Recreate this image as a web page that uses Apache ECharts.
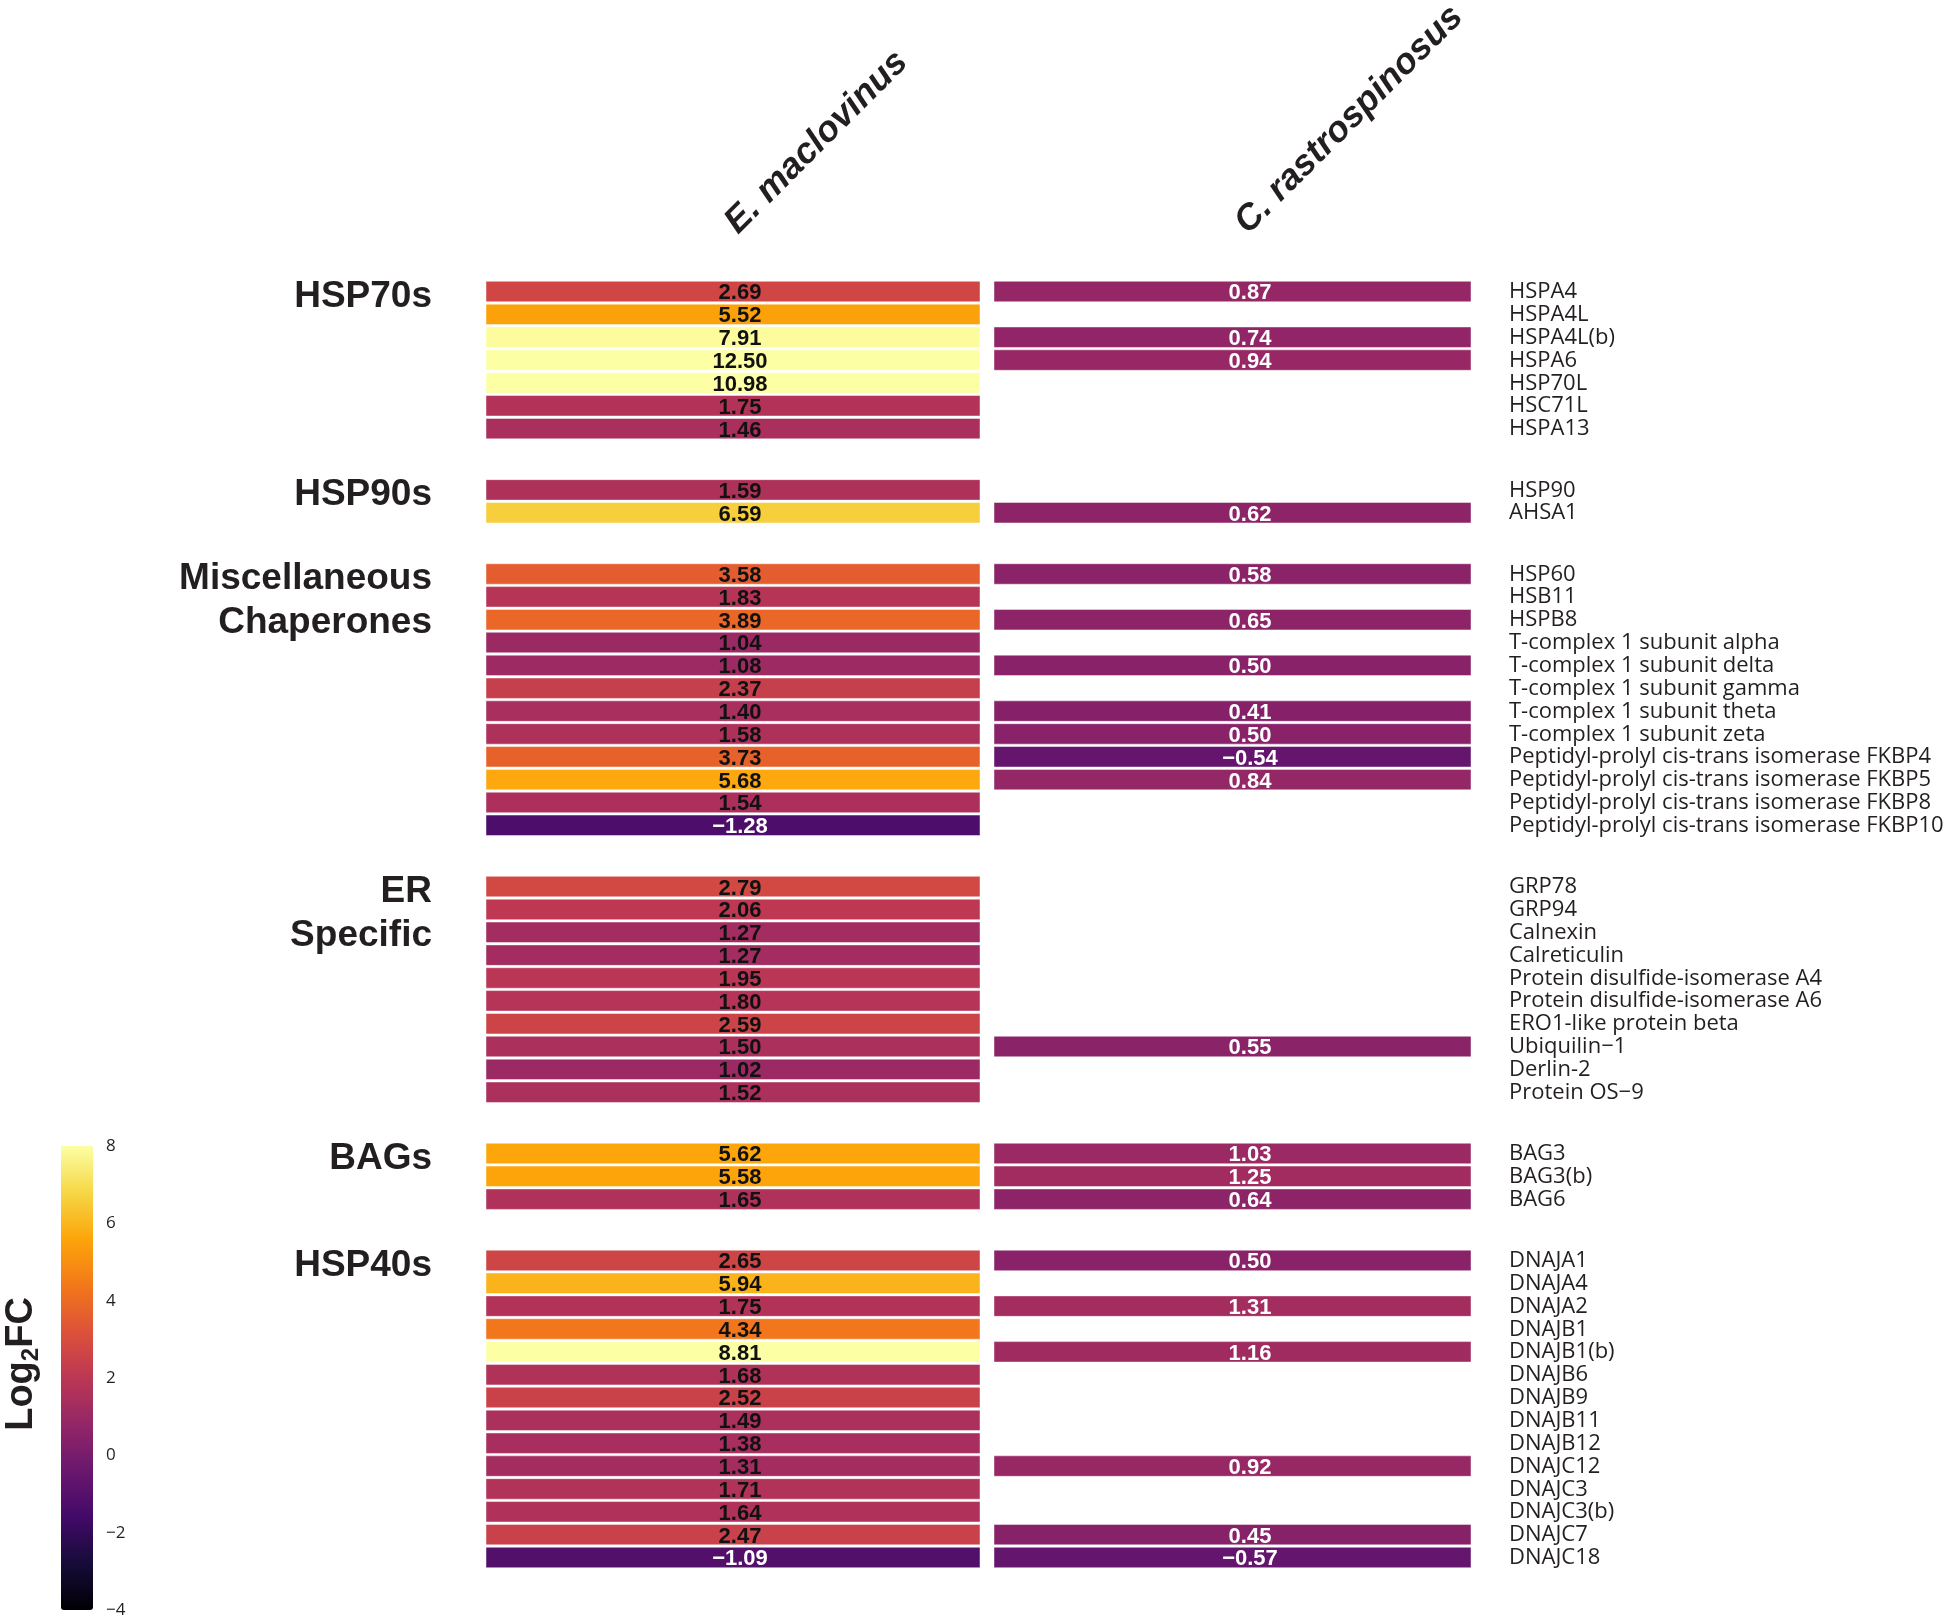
<!DOCTYPE html>
<html><head><meta charset="utf-8">
<script src="https://cdn.jsdelivr.net/npm/echarts@6/dist/echarts.min.js"></script>
<style>html,body{margin:0;padding:0;background:#fff}#chart{width:1946px;height:1620px}</style>
</head><body><div id="chart"></div>
<script>
// ---------- data ----------
const columns = ['E. maclovinus', 'C. rastrospinosus'];
const groupNames = ['HSP70s', 'HSP90s', 'Miscellaneous\nChaperones', 'ER\nSpecific', 'BAGs', 'HSP40s'];

const hsp70Genes = ['HSPA4', 'HSPA4L', 'HSPA4L(b)', 'HSPA6', 'HSP70L', 'HSC71L', 'HSPA13'];
const hsp70Em = [2.69, 5.52, 7.91, 12.50, 10.98, 1.75, 1.46];
const hsp70Cr = [0.87, null, 0.74, 0.94, null, null, null];

const hsp90Genes = ['HSP90', 'AHSA1'];
const hsp90Em = [1.59, 6.59];
const hsp90Cr = [null, 0.62];

const miscGenes = ['HSP60', 'HSB11', 'HSPB8', 'T-complex 1 subunit alpha', 'T-complex 1 subunit delta',
  'T-complex 1 subunit gamma', 'T-complex 1 subunit theta', 'T-complex 1 subunit zeta',
  'Peptidyl-prolyl cis-trans isomerase FKBP4', 'Peptidyl-prolyl cis-trans isomerase FKBP5',
  'Peptidyl-prolyl cis-trans isomerase FKBP8', 'Peptidyl-prolyl cis-trans isomerase FKBP10'];
const miscEm = [3.58, 1.83, 3.89, 1.04, 1.08, 2.37, 1.40, 1.58, 3.73, 5.68, 1.54, -1.28];
const miscCr = [0.58, null, 0.65, null, 0.50, null, 0.41, 0.50, -0.54, 0.84, null, null];

const erGenes = ['GRP78', 'GRP94', 'Calnexin', 'Calreticulin', 'Protein disulfide-isomerase A4',
  'Protein disulfide-isomerase A6', 'ERO1-like protein beta', 'Ubiquilin\u22121', 'Derlin-2', 'Protein OS\u22129'];
const erEm = [2.79, 2.06, 1.27, 1.27, 1.95, 1.80, 2.59, 1.50, 1.02, 1.52];
const erCr = [null, null, null, null, null, null, null, 0.55, null, null];

const bagGenes = ['BAG3', 'BAG3(b)', 'BAG6'];
const bagEm = [5.62, 5.58, 1.65];
const bagCr = [1.03, 1.25, 0.64];

const hsp40Genes = ['DNAJA1', 'DNAJA4', 'DNAJA2', 'DNAJB1', 'DNAJB1(b)', 'DNAJB6', 'DNAJB9', 'DNAJB11',
  'DNAJB12', 'DNAJC12', 'DNAJC3', 'DNAJC3(b)', 'DNAJC7', 'DNAJC18'];
const hsp40Em = [2.65, 5.94, 1.75, 4.34, 8.81, 1.68, 2.52, 1.49, 1.38, 1.31, 1.71, 1.64, 2.47, -1.09];
const hsp40Cr = [0.50, null, 1.31, null, 1.16, null, null, null, null, 0.92, null, null, 0.45, -0.57];

const colorMin = -4, colorMax = 8, colorStep = 2;

// ---------- build ----------
const groups = [
  { name: groupNames[0], genes: hsp70Genes, em: hsp70Em, cr: hsp70Cr },
  { name: groupNames[1], genes: hsp90Genes, em: hsp90Em, cr: hsp90Cr },
  { name: groupNames[2], genes: miscGenes, em: miscEm, cr: miscCr },
  { name: groupNames[3], genes: erGenes, em: erEm, cr: erCr },
  { name: groupNames[4], genes: bagGenes, em: bagEm, cr: bagCr },
  { name: groupNames[5], genes: hsp40Genes, em: hsp40Em, cr: hsp40Cr }
];

const INK = '#231f20';
const inferno = ['#000004', '#160b39', '#420a68', '#6a176e', '#932667', '#bc3754',
  '#dd513a', '#f37819', '#fca50a', '#f6d746', '#fcffa4'];
const L = { top: 280.5, pitch: 22.85, gap: 38.4, left: 485, width: 1020, labelRight: 432 };

function fmt(v) { return v.toFixed(2).replace('-', '\u2212'); }

function renderCell(params, api) {
  const col = api.value(0), v = api.value(2);
  const c = api.coord([col, api.value(1)]);
  const sz = api.size([1, 1]);
  const bandW = sz[0], bandH = sz[1];
  const x0 = c[0] - bandW / 2;
  const x = col === 0 ? x0 + 1 : x0 - 1;
  const w = col === 0 ? bandW - 16 : bandW - 33;
  const y = c[1] - bandH / 2 + 0.8;
  const h = bandH - 2.4;
  const txtColor = (col === 0 && v >= 0) ? '#111' : '#fff';
  return {
    type: 'group',
    children: [
      { type: 'rect', shape: { x: x, y: y, width: w, height: h },
        style: { fill: api.visual('color'), stroke: 'rgba(255,255,255,0.45)', lineWidth: 1 } },
      { type: 'text', x: c[0], y: c[1] + 1.5,
        style: { text: fmt(v), fill: txtColor, font: 'bold 22px "Liberation Sans", Arial, sans-serif',
          align: 'center', verticalAlign: 'middle' } }
    ]
  };
}

const grids = [], xAxes = [], yAxes = [], series = [], graphics = [];

// header grid (column titles)
grids.push({ left: 476, top: 236, width: 1020, height: 1, containLabel: false, outerBoundsMode: 'none' });
xAxes.push({ gridIndex: 0, type: 'category', position: 'top', data: columns,
  axisLine: { show: false }, axisTick: { show: false }, splitLine: { show: false },
  axisLabel: { rotate: 45, margin: 8, interval: 0, align: 'left', verticalAlign: 'middle',
    color: INK, fontFamily: '"Liberation Sans", Arial, sans-serif', fontWeight: 'bold',
    fontStyle: 'italic', fontSize: 36 } });
yAxes.push({ gridIndex: 0, type: 'value', show: false });

let rowsBefore = 0;
groups.forEach(function (g, gi) {
  const idx = gi + 1;
  const top = L.top + rowsBefore * L.pitch + gi * L.gap;
  const h = g.genes.length * L.pitch;
  grids.push({ left: L.left, top: top, width: L.width, height: h, containLabel: false, outerBoundsMode: 'none' });
  xAxes.push({ gridIndex: idx, type: 'category', data: columns, show: false });
  yAxes.push({ gridIndex: idx, type: 'category', data: g.genes, inverse: true, position: 'right',
    axisLine: { show: false }, axisTick: { show: false }, splitLine: { show: false },
    axisLabel: { interval: 0, margin: 4, color: INK, fontFamily: '"Open Sans", sans-serif', fontSize: 22,
      padding: [3, 0, 0, 0] } });
  const data = [];
  g.genes.forEach(function (gene, r) {
    data.push([0, r, g.em[r]]);
    if (g.cr[r] !== null) data.push([1, r, g.cr[r]]);
  });
  series.push({ type: 'custom', xAxisIndex: idx, yAxisIndex: idx, data: data, renderItem: renderCell,
    encode: { x: 0, y: 1 }, silent: true, animation: false });
  graphics.push({ type: 'text', x: L.labelRight, y: top - 6, silent: true,
    style: { text: g.name, align: 'right', verticalAlign: 'top', lineHeight: 44, fill: INK,
      font: 'bold 37px "Liberation Sans", Arial, sans-serif' } });
  rowsBefore += g.genes.length;
});

// colour bar axis
const cbIdx = groups.length + 1;
grids.push({ left: 61, top: 1146, width: 32, height: 464, containLabel: false, outerBoundsMode: 'none' });
xAxes.push({ gridIndex: cbIdx, type: 'value', show: false });
yAxes.push({ gridIndex: cbIdx, type: 'value', min: colorMin, max: colorMax, interval: colorStep, position: 'right',
  axisLine: { show: false }, axisTick: { show: false }, splitLine: { show: false },
  axisLabel: { margin: 13, color: INK, fontFamily: '"Open Sans", sans-serif', fontSize: 17,
    formatter: function (v) { return String(v).replace('-', '\u2212'); } } });

graphics.push({ type: 'text', x: 22, y: 1364, rotation: Math.PI / 2, silent: true,
  style: { text: '{a|Log}{b|2}{a|FC}', align: 'center', verticalAlign: 'middle',
    rich: {
      a: { fontSize: 38, fontWeight: 'bold', fontFamily: '"Liberation Sans", Arial, sans-serif', fill: INK, color: INK },
      b: { fontSize: 24, fontWeight: 'bold', fontFamily: '"Liberation Sans", Arial, sans-serif', fill: INK, color: INK, padding: [18, 0, 0, 0] }
    } } });

const chart = echarts.init(document.getElementById('chart'), null, { renderer: 'canvas' });
chart.setOption({
  animation: false,
  backgroundColor: '#fff',
  grid: grids,
  xAxis: xAxes,
  yAxis: yAxes,
  visualMap: {
    type: 'continuous', min: colorMin, max: colorMax, dimension: 2,
    seriesIndex: series.map(function (s, i) { return i; }),
    inRange: { color: inferno },
    show: true, orient: 'vertical', left: 61, top: 1146, itemWidth: 32, itemHeight: 464,
    padding: 0, calculable: false, hoverLink: false, realtime: false
  },
  graphic: graphics,
  series: series
});
</script>
</body></html>
